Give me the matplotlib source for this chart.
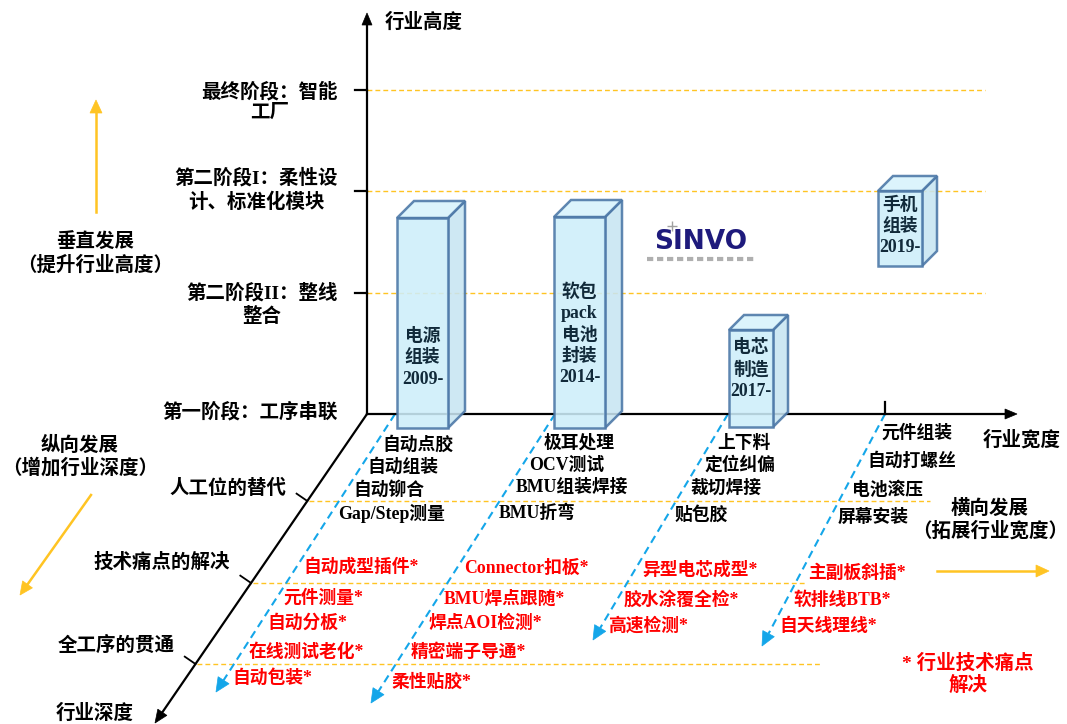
import matplotlib
matplotlib.use('Agg')
import matplotlib.pyplot as plt
from matplotlib.patches import Polygon
import numpy as np

plt.rcParams['font.family'] = ['Liberation Serif', 'Noto Sans CJK SC']
plt.rcParams['font.weight'] = 'bold'

# ---------------- data ----------------
height_title = '行业高度'
width_title = '行业宽度'
depth_title = '行业深度'

# 纵轴 (行业高度) 阶段
stage_labels = ['最终阶段：智能\n工厂', '第二阶段I：柔性设\n计、标准化模块', '第二阶段II：整线\n整合', '第一阶段：工序串联']
stage_y = [90, 191, 293, 414]
stage_text_y = [102, 190, 305, 412]

# 斜轴 (行业深度) 层次
depth_labels = ['人工位的替代', '技术痛点的解决', '全工序的贯通']
depth_y = [501, 583, 664]
depth_text_y = [488, 562, 645]
depth_line_end = [930, 805, 820]

# 横轴 (行业宽度) 各领域
col_x = [395, 555, 728, 885]
col_tip = [(216, 692), (371, 703), (593, 640), (762, 646)]

bar_lines = [['电源', '组装', '2009-'],
             ['软包', 'pack', '电池', '封装', '2014-'],
             ['电芯', '制造', '2017-'],
             ['手机', '组装', '2019-']]
bar_left = [397, 554, 729, 878]
bar_width = [51, 51, 44, 44]
bar_top = [218, 217, 330, 191]
bar_bottom = [428, 428, 427, 266]
bar_depth = [17, 17, 15, 15]
bar_text_y0 = [336, 292, 348, 205]

black_items = [['自动点胶', '自动组装', '自动铆合', 'Gap/Step测量'],
               ['极耳处理', 'OCV测试', 'BMU组装焊接', 'BMU折弯'],
               ['上下料', '定位纠偏', '裁切焊接', '贴包胶'],
               ['元件组装', '自动打螺丝', '电池滚压', '屏幕安装']]
black_y = [[445, 467, 490, 513], [443, 465, 487, 513], [443, 465, 488, 515], [433, 461, 490, 517]]

red_items = [['自动成型插件*', '元件测量*', '自动分板*', '在线测试老化*', '自动包装*'],
             ['Connector扣板*', 'BMU焊点跟随*', '焊点AOI检测*', '精密端子导通*', '柔性贴胶*'],
             ['异型电芯成型*', '胶水涂覆全检*', '高速检测*'],
             ['主副板斜插*', '软排线BTB*', '自天线理线*']]
red_y = [[567, 598, 623, 652, 678], [568, 599, 623, 652, 682], [570, 600, 626], [573, 600, 626]]

# ---------------- geometry / style ----------------
origin = (367, 414)
y_top = 13
x_right = 1017
depth_tip = (155, 723)

BLUE = '#14A6E9'
YEL = '#FFC423'
EDGE = '#4A76A6'
RED = '#FF0000'


def depth_x(y):
    return origin[0] + (depth_tip[0] - origin[0]) * (y - origin[1]) / (depth_tip[1] - origin[1])


def head(ax, tail, tip, color, length=13, half=6, z=5):
    t = np.array(tail, float)
    p = np.array(tip, float)
    u = (p - t) / np.hypot(*(p - t))
    n = np.array([-u[1], u[0]])
    base = p - u * length
    ax.add_patch(Polygon([p, base + n * half, base - n * half], closed=True,
                         facecolor=color, edgecolor=color, lw=0.5, zorder=z))
    return base


fig = plt.figure(figsize=(10.67, 7.24), dpi=100)
ax = fig.add_axes([0, 0, 1, 1])
ax.set_xlim(0, 1067)
ax.set_ylim(724, 0)
ax.axis('off')

# axes arrows
b = head(ax, origin, (origin[0], y_top), 'black', 12, 5)
ax.plot([origin[0], b[0]], [origin[1], b[1]], color='black', lw=1.6, zorder=5)
b = head(ax, origin, (x_right, origin[1]), 'black', 12, 5)
ax.plot([origin[0], b[0]], [origin[1], b[1]], color='black', lw=1.6, zorder=5)
b = head(ax, origin, depth_tip, 'black', 13, 5.5)
ax.plot([origin[0], b[0]], [origin[1], b[1]], color='black', lw=1.6, zorder=5)

ax.text(385, 22, height_title, fontsize=14, ha='left', va='center')
ax.text(983, 440, width_title, fontsize=14, ha='left', va='center')
ax.text(95, 713, depth_title, fontsize=14, ha='center', va='center')

# stages on vertical axis
for lab, y, ty in zip(stage_labels, stage_y, stage_text_y):
    if y != origin[1]:
        ax.plot([355, origin[0]], [y, y], color='black', lw=1.6, zorder=5)
        ax.plot([origin[0], 985], [y, y], color=YEL, lw=1, dashes=(3.5, 2.2), zorder=4)
    ax.text(338, ty, lab, fontsize=14, ha='right', va='center',
            multialignment='center', linespacing=1.3)

# depth levels (ticks point up-left, perpendicular to the depth axis)
d = np.array([depth_tip[0] - origin[0], depth_tip[1] - origin[1]], float)
d /= np.hypot(*d)
perp = np.array([-d[1], d[0]])
for lab, y, ty, xe in zip(depth_labels, depth_y, depth_text_y, depth_line_end):
    x0 = depth_x(y)
    ax.plot([x0, x0 + perp[0] * 13], [y, y + perp[1] * 13], color='black', lw=1.3, zorder=5)
    ax.plot([x0 + 2, xe], [y, y], color=YEL, lw=1, dashes=(3.5, 2.2), zorder=2)
    ax.text(x0 - 21, ty, lab, fontsize=14, ha='right', va='center')

# tick for the last column (no ground bar)
ax.plot([col_x[3], col_x[3]], [origin[1] - 12, origin[1]], color='black', lw=1.6, zorder=5)

# blue dashed depth lines per column
for cx, tip in zip(col_x, col_tip):
    b = head(ax, (cx, origin[1]), tip, BLUE, 14, 6.5)
    ax.plot([cx, b[0]], [origin[1], b[1]], color=BLUE, lw=1.5, dashes=(3.8, 2.4), zorder=3)

# bars (3D boxes)
for lines, L, w, top, bot, dp, ty in zip(bar_lines, bar_left, bar_width, bar_top,
                                          bar_bottom, bar_depth, bar_text_y0):
    front = [(L, top), (L + w, top), (L + w, bot), (L, bot)]
    topf = [(L, top), (L + dp, top - dp), (L + w + dp, top - dp), (L + w, top)]
    side = [(L + w, top), (L + w + dp, top - dp), (L + w + dp, bot - dp), (L + w, bot)]
    for poly, fc in [(side, '#C8E5F2'), (topf, '#D8F3FC'), (front, '#CDEEFA')]:
        ax.add_patch(Polygon(poly, closed=True, facecolor=fc, edgecolor=EDGE,
                             lw=1.8, alpha=0.88, zorder=6, joinstyle='miter'))
    for i, t in enumerate(lines):
        ax.text(L + w / 2, ty + i * 21.5, t, fontsize=12.8, ha='center', va='center',
                color='#112A3A', zorder=7)

# column labels
for cx, tip, bl, by, rl, ry in zip(col_x, col_tip, black_items, black_y, red_items, red_y):
    k = (tip[0] - cx) / (tip[1] - origin[1])
    for t, y in zip(bl, by):
        ax.text(cx + k * (y - origin[1]) + 7, y, t, fontsize=12.8, ha='left', va='center',
                color='black', zorder=7)
    for t, y in zip(rl, ry):
        ax.text(cx + k * (y - origin[1]) + 7, y, t, fontsize=12.8, ha='left', va='center',
                color=RED, zorder=7)

# side notes with yellow arrows
b = head(ax, (96, 212), (96, 100), YEL, 13, 6)
ax.plot([96, b[0]], [212, b[1]], color=YEL, lw=1.8)
ax.text(95, 254, '垂直发展\n（提升行业高度）', fontsize=14, ha='center', va='center',
        multialignment='center', linespacing=1.2)

b = head(ax, (91, 495), (20, 595), YEL, 13, 6)
ax.plot([91, b[0]], [495, b[1]], color=YEL, lw=1.8)
ax.text(80, 457, '纵向发展\n（增加行业深度）', fontsize=14, ha='center', va='center',
        multialignment='center', linespacing=1.2)

b = head(ax, (937, 571), (1049, 571), YEL, 13, 6)
ax.plot([937, b[0]], [571, b[1]], color=YEL, lw=1.8)
ax.text(990, 520, '横向发展\n（拓展行业宽度）', fontsize=14, ha='center', va='center',
        multialignment='center', linespacing=1.2)

ax.text(968, 674, '* 行业技术痛点\n解决', fontsize=14, ha='center', va='center',
        multialignment='center', linespacing=1.2, color=RED)

# SINVO logo
ax.text(701, 242, 'SINVO', fontsize=19, family='DejaVu Sans', weight='heavy',
        color='#1E1A7C', ha='center', va='center')
ax.plot([672], [226], marker='+', color='#A0A0A0', ms=7, mew=1)
ax.plot([647, 755], [259, 259], color='#AFAFAF', lw=3, dashes=(1.5, 0.9))

fig.savefig('out.png', dpi=100)
